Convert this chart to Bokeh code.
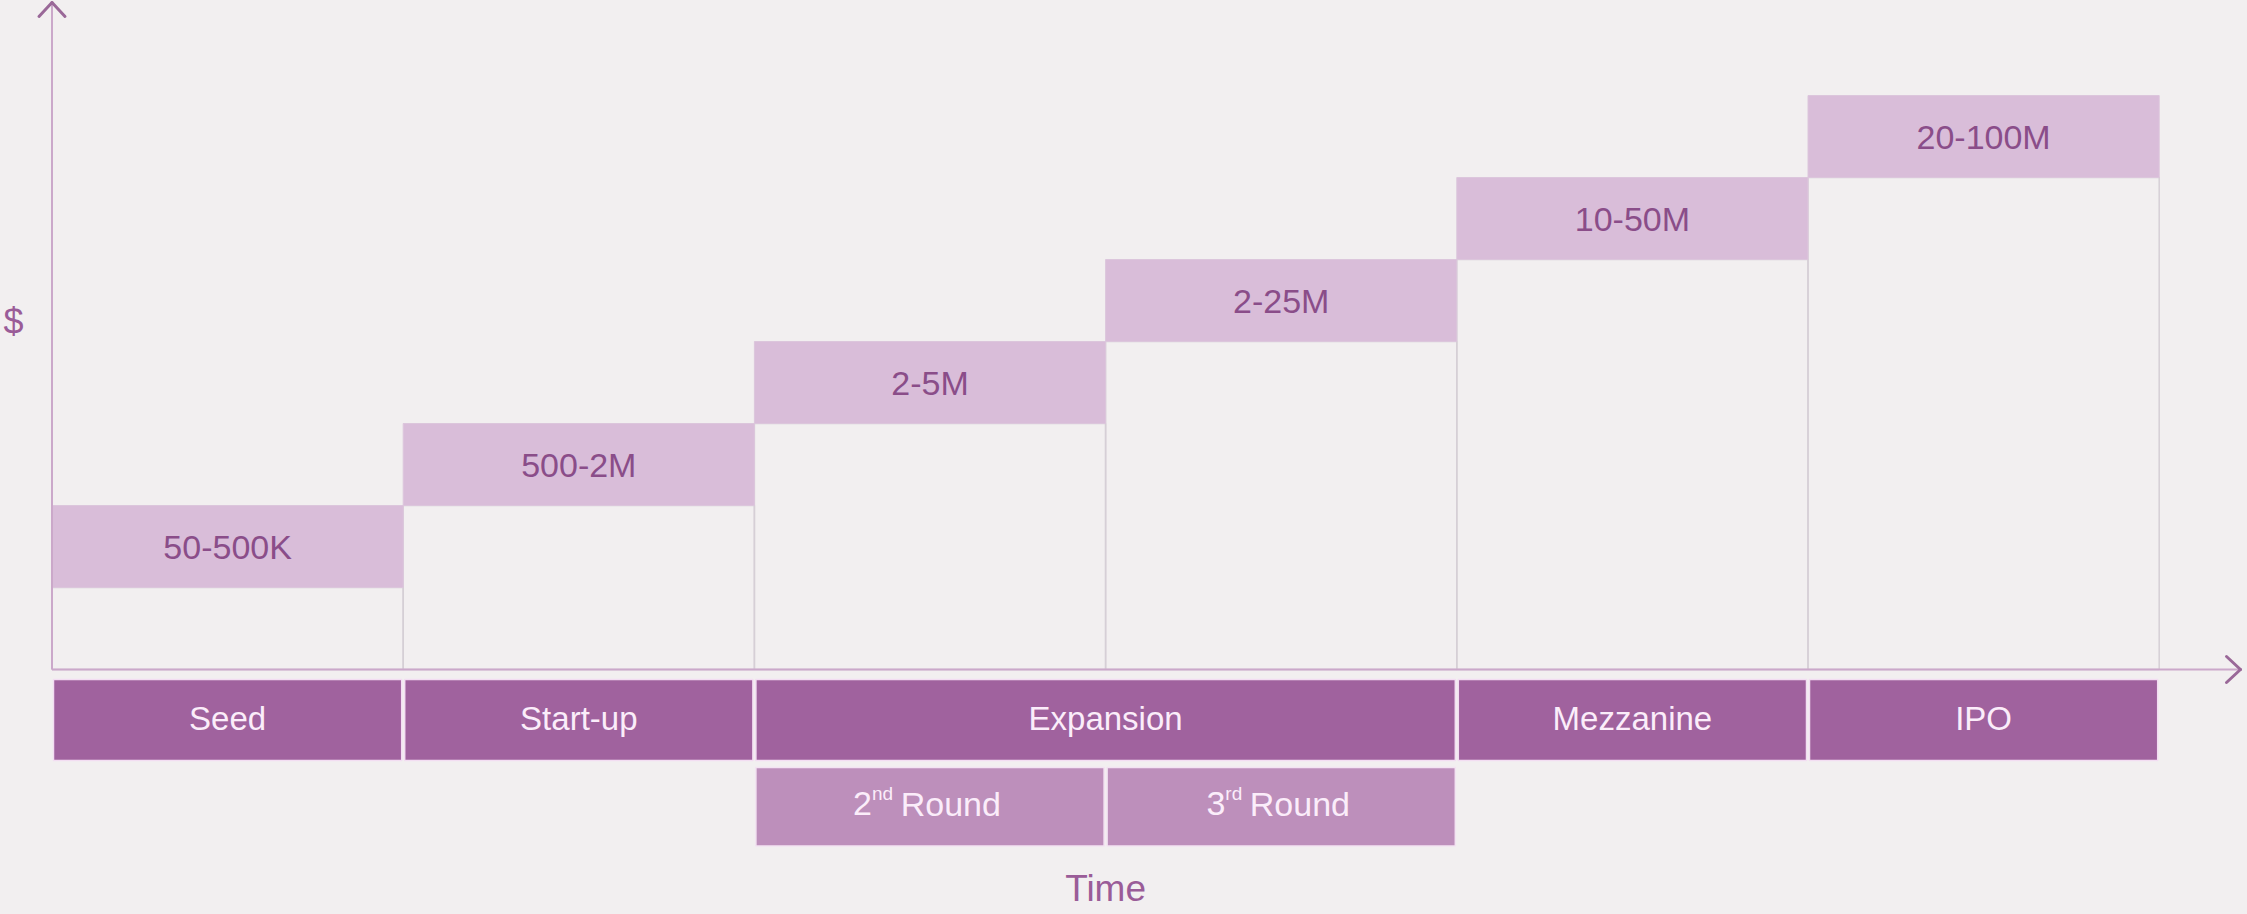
from bokeh.plotting import figure
from bokeh.models import Range1d, ColumnDataSource
from bokeh.embed import file_html
from bokeh.resources import INLINE
from bokeh.core.properties import value

# ---------------- data ----------------
range_labels = ["50-500K", "500-2M", "2-5M", "2-25M", "10-50M", "20-100M"]
range_levels = [1, 2, 3, 4, 5, 6]          # step level (bottom) of each range box
stage_names = ["Seed", "Start-up", "Expansion", "Mezzanine", "IPO"]
stage_start = [0, 1, 2, 4, 5]
stage_end = [1, 2, 4, 5, 6]
round_num = ["2", "3"]
round_suffix = ["nd", "rd"]
round_word = ["Round", "Round"]
round_start = [2, 3]
round_end = [3, 4]
y_label = "$"
x_label = "Time"

# ---------------- layout ----------------
W, H = 2243, 910
UX = 351.2          # px per column
UY = 82.0           # px per step
X0 = 51.5           # px of x=0 inside the figure
Y0 = 669.0          # px (from top) of y=0 inside the figure

BG = "#F2EFF0"
BOX = "#D9BDD9"
BOX_TXT = "#8A4D89"
STAGE = "#A0629E"
ROUND = "#BD8FBB"
STAGE_TXT = "#FBEDFA"
AXIS = "#CBA8CA"
HEAD = "#9A6898"
COL_LINE = "#D6CFD6"
LABEL = "#9A5C98"
FONT = value("Liberation Sans")

p = figure(width=W, height=H, output_backend="svg", toolbar_location=None,
           x_axis_type=None, y_axis_type=None,
           x_range=Range1d(-X0 / UX, (W - X0) / UX),
           y_range=Range1d(-(H - Y0) / UY, Y0 / UY),
           min_border=0, min_border_left=0, min_border_right=0,
           min_border_top=0, min_border_bottom=0)
p.background_fill_color = BG
p.border_fill_color = BG
p.outline_line_color = None

n = len(range_labels)
cols = list(range(n))

# column outlines (from axis up to range box)
p.quad(left=cols, right=[c + 1 for c in cols], bottom=[0] * n, top=range_levels,
       fill_color=None, line_color=COL_LINE, line_width=1.5)

# range boxes
box_src = ColumnDataSource(dict(
    left=cols, right=[c + 1 for c in cols],
    bottom=range_levels, top=[v + 1 for v in range_levels],
    xc=[c + 0.5 for c in cols], yc=[v + 0.5 for v in range_levels],
    label=range_labels))
p.quad(left="left", right="right", bottom="bottom", top="top", source=box_src,
       fill_color=BOX, line_color="#DCC6DC", line_width=1)
p.text(x="xc", y="yc", text="label", source=box_src, text_font=FONT,
       text_font_size="34px", text_color=BOX_TXT, text_align="center",
       text_baseline="middle")

# axes with arrow heads
x_tip = (W - 3 - X0) / UX
y_tip = (Y0 - 2) / UY
p.segment(x0=[0, 0], y0=[0, 0], x1=[x_tip, 0], y1=[0, y_tip],
          line_color=AXIS, line_width=2)
hx, hy = 14.0, 13.0
p.segment(x0=[x_tip - hx / UX, x_tip - hx / UX, -hy / UX, hy / UX],
          y0=[hy / UY, -hy / UY, y_tip - hx / UY, y_tip - hx / UY],
          x1=[x_tip, x_tip, 0, 0], y1=[0, 0, y_tip, y_tip],
          line_color=HEAD, line_width=3, line_cap="round")

# stage bars
inset = 1.5 / UX
s_top, s_bot = -10 / UY, -91 / UY
st_src = ColumnDataSource(dict(
    left=[s + inset for s in stage_start], right=[e - inset for e in stage_end],
    xc=[(s + e) / 2 for s, e in zip(stage_start, stage_end)],
    label=stage_names))
p.quad(left="left", right="right", bottom=s_bot, top=s_top, source=st_src,
       fill_color=STAGE, line_color="#F3DDF2", line_width=1.5)
p.text(x="xc", y=(s_top + s_bot) / 2 + 2 / UY, text="label", source=st_src,
       text_font=FONT, text_font_size="33px", text_color=STAGE_TXT,
       text_align="center", text_baseline="middle")

# round bars (with superscripts)
r_top, r_bot = -98 / UY, -176.5 / UY
p.quad(left=[s + inset for s in round_start], right=[e - inset for e in round_end],
       bottom=r_bot, top=r_top, fill_color=ROUND, line_color="#F3E3F2", line_width=1.5)

ADV = {"2": .556, "3": .556, "n": .556, "d": .556, "r": .333, "R": .722,
       "o": .556, "u": .556, " ": .278}
def tw(s, size):
    return sum(ADV.get(ch, .556) for ch in s) * size

MAIN, SUP = 34, 19
xc_r = [(s + e) / 2 for s, e in zip(round_start, round_end)]
off_num, off_sup, off_word = [], [], []
for num, suf, word in zip(round_num, round_suffix, round_word):
    total = tw(num, MAIN) + tw(suf, SUP) + tw(" ", MAIN) * 0.8 + tw(word, MAIN)
    start = -total / 2 - 3
    off_num.append(start)
    off_sup.append(start + tw(num, MAIN))
    off_word.append(start + tw(num, MAIN) + tw(suf, SUP) + tw(" ", MAIN) * 0.8)
rc = (r_top + r_bot) / 2 + 3 / UY
sup_c = rc + 10 / UY
p.text(x=xc_r, y=[rc] * 2, text=round_num, x_offset=off_num, text_font=FONT,
       text_font_size=f"{MAIN}px", text_color=STAGE_TXT, text_align="left",
       text_baseline="middle")
p.text(x=xc_r, y=[sup_c] * 2, text=round_suffix, x_offset=off_sup, text_font=FONT,
       text_font_size=f"{SUP}px", text_color=STAGE_TXT, text_align="left",
       text_baseline="middle")
p.text(x=xc_r, y=[rc] * 2, text=round_word, x_offset=off_word, text_font=FONT,
       text_font_size=f"{MAIN}px", text_color=STAGE_TXT, text_align="left",
       text_baseline="middle")

# axis labels
p.text(x=[-38.5 / UX], y=[(Y0 - 321) / UY], text=[y_label], text_font=FONT,
       text_font_size="36px", text_color=LABEL, text_align="center",
       text_baseline="middle")
p.text(x=[3.0], y=[-(888 - Y0) / UY], text=[x_label], text_font=FONT,
       text_font_size="37px", text_color=LABEL, text_align="center",
       text_baseline="middle")

html = file_html(p, INLINE, title="Funding stages")
html = html.replace("<body>", f'<body style="background-color:{BG};">', 1)
html = html.replace("<html", f'<html style="background-color:{BG};"', 1)
open("out.html", "w").write(html)
